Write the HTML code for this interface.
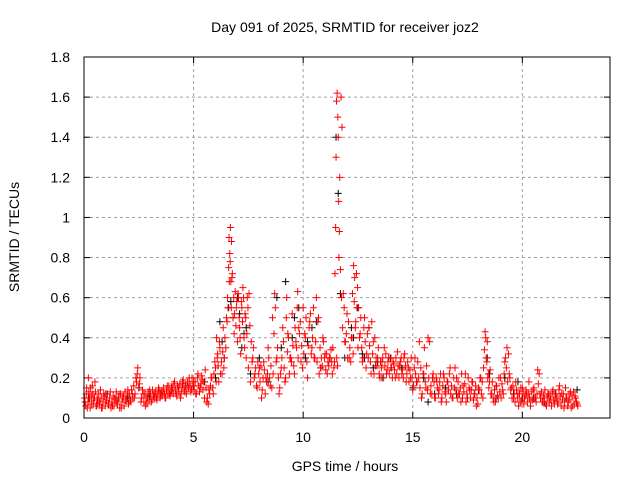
<!DOCTYPE html>
<html><head><meta charset="utf-8"><style>
body{margin:0;background:#fff;}
svg text{font-family:"Liberation Sans",sans-serif;font-size:14px;fill:#000;}
</style></head><body>
<svg id="chart" width="640" height="480" viewBox="0 0 640 480" xmlns="http://www.w3.org/2000/svg">
<text x="345" y="32" text-anchor="middle">Day 091 of 2025, SRMTID for receiver joz2</text>
<text x="345" y="471" text-anchor="middle">GPS time / hours</text>
<text transform="translate(19,237) rotate(-90)" text-anchor="middle">SRMTID / TECUs</text>
<g id="grid"></g>
<g id="ticks"></g>
<g id="black" stroke="#000" stroke-width="1"></g>
<g id="red" stroke="#f00" stroke-width="1"></g>
<rect x="84" y="57" width="526" height="361" fill="none" stroke="#000" stroke-width="1"/>
</svg>
<script>
const xTicks=[0,5,10,15,20];
const yTicks=[0,0.2,0.4,0.6,0.8,1,1.2,1.4,1.6,1.8];
const yTickLabels=["0","0.2","0.4","0.6","0.8","1","1.2","1.4","1.6","1.8"];
const redT=[0.05,0.1,0.15,0.2,0.25,0.3,0.35,0.4,0.45,0.5,0.55,0.6,0.7,0.75,0.8,0.9,1.0,1.1,1.2,1.3,1.4,1.5,1.6,1.7,1.8,1.9,2.0,2.1,2.2,2.3,2.4,2.45,2.5,2.55,2.6,2.7,2.8,2.9,3.0,3.1,3.2,3.3,3.4,3.5,3.6,3.7,3.8,3.9,4.0,4.1,4.2,4.3,4.4,4.5,4.6,4.7,4.8,4.9,5.0,5.1,5.2,5.3,5.4,5.5,5.6,5.7,5.8,5.9,6.0,6.05,6.1,6.15,6.2,6.3,6.35,6.4,6.5,6.55,6.6,6.62,6.65,6.68,6.7,6.72,6.75,6.8,6.85,6.9,6.95,7.0,7.05,7.1,7.15,7.2,7.25,7.3,7.35,7.4,7.45,7.5,7.6,7.7,7.8,7.9,8.0,8.1,8.2,8.3,8.4,8.5,8.6,8.7,8.8,8.9,9.0,9.1,9.2,9.25,9.3,9.4,9.5,9.6,9.7,9.75,9.8,9.9,10.0,10.1,10.2,10.3,10.4,10.5,10.6,10.7,10.8,10.9,11.0,11.1,11.2,11.3,11.35,11.4,11.45,11.48,11.5,11.52,11.55,11.58,11.6,11.62,11.65,11.7,11.75,11.8,11.9,12.0,12.1,12.2,12.25,12.3,12.35,12.4,12.45,12.5,12.6,12.7,12.8,12.9,13.0,13.1,13.2,13.3,13.4,13.5,13.6,13.7,13.8,13.9,14.0,14.1,14.2,14.3,14.4,14.5,14.6,14.7,14.8,14.9,15.0,15.1,15.2,15.3,15.4,15.5,15.6,15.7,15.8,15.9,16.0,16.1,16.2,16.3,16.4,16.5,16.6,16.7,16.8,16.9,17.0,17.1,17.2,17.3,17.4,17.5,17.6,17.7,17.8,17.9,18.0,18.1,18.2,18.3,18.35,18.4,18.45,18.5,18.6,18.7,18.8,18.9,19.0,19.1,19.2,19.3,19.4,19.5,19.6,19.7,19.8,19.9,20.0,20.1,20.2,20.3,20.4,20.5,20.6,20.7,20.8,20.9,21.0,21.1,21.2,21.3,21.4,21.5,21.6,21.7,21.8,21.9,22.0,22.1,22.2,22.3,22.4,22.5,22.6,22.7,22.8];
const redV=[0.08,0.12,0.05,0.2,0.1,0.15,0.07,0.12,0.09,0.18,0.06,0.1,0.08,0.14,0.05,0.12,0.09,0.07,0.13,0.06,0.1,0.08,0.12,0.05,0.11,0.09,0.14,0.08,0.12,0.1,0.18,0.25,0.15,0.2,0.08,0.12,0.06,0.1,0.14,0.09,0.12,0.1,0.15,0.11,0.13,0.1,0.16,0.12,0.14,0.17,0.12,0.15,0.1,0.18,0.13,0.16,0.2,0.14,0.18,0.12,0.22,0.15,0.19,0.1,0.08,0.14,0.2,0.12,0.25,0.4,0.32,0.18,0.35,0.22,0.45,0.3,0.5,0.6,0.75,0.9,0.82,0.95,0.68,0.55,0.7,0.5,0.42,0.63,0.55,0.38,0.6,0.45,0.32,0.55,0.65,0.4,0.52,0.3,0.6,0.25,0.18,0.3,0.22,0.15,0.25,0.1,0.28,0.2,0.35,0.16,0.5,0.62,0.3,0.12,0.25,0.38,0.2,0.6,0.42,0.3,0.52,0.22,0.35,0.63,0.45,0.28,0.55,0.4,0.2,0.48,0.35,0.3,0.6,0.5,0.25,0.4,0.32,0.22,0.3,0.28,0.35,0.25,0.72,0.95,1.3,1.58,1.62,1.5,1.4,1.08,0.93,0.74,0.6,0.45,0.38,0.52,0.3,0.4,0.62,0.76,0.7,0.48,0.55,0.35,0.42,0.28,0.5,0.32,0.45,0.22,0.38,0.26,0.3,0.2,0.28,0.35,0.22,0.3,0.25,0.28,0.2,0.33,0.26,0.22,0.3,0.18,0.25,0.2,0.14,0.3,0.18,0.38,0.1,0.22,0.15,0.4,0.12,0.2,0.1,0.18,0.14,0.08,0.22,0.12,0.18,0.25,0.1,0.15,0.2,0.12,0.08,0.16,0.22,0.1,0.14,0.18,0.12,0.06,0.15,0.2,0.1,0.43,0.3,0.38,0.22,0.18,0.12,0.08,0.16,0.1,0.2,0.14,0.28,0.35,0.22,0.15,0.1,0.18,0.12,0.08,0.15,0.1,0.12,0.18,0.09,0.14,0.1,0.24,0.12,0.08,0.1,0.06,0.12,0.09,0.14,0.1,0.07,0.16,0.12,0.05,0.1,0.08,0.13,0.06,0.11,0.07];
const redT2=[0.02,0.08,0.12,0.18,0.22,0.28,0.33,0.38,0.42,0.48,0.52,0.58,0.63,0.67,0.72,0.78,0.83,0.87,0.93,0.97,1.03,1.07,1.13,1.17,1.23,1.27,1.33,1.37,1.43,1.47,1.53,1.57,1.63,1.67,1.73,1.77,1.83,1.87,1.93,1.97,2.03,2.07,2.13,2.17,2.23,2.27,2.33,2.37,2.43,2.53,2.63,2.67,2.73,2.77,2.83,2.87,2.93,2.97,3.03,3.07,3.13,3.17,3.23,3.27,3.33,3.37,3.43,3.47,3.53,3.57,3.63,3.67,3.73,3.77,3.83,3.87,3.93,3.97,4.03,4.07,4.13,4.17,4.23,4.27,4.33,4.37,4.43,4.47,4.53,4.57,4.63,4.67,4.73,4.77,4.83,4.87,4.93,4.97,5.03,5.07,5.13,5.17,5.23,5.27,5.33,5.37,5.43,5.47,5.53,5.57,5.63,5.67,5.73,5.77,5.83,5.87,5.93,5.97,6.03,6.08,6.12,6.18,6.23,6.27,6.33,6.38,6.43,6.47,6.53,6.57,6.63,6.67,6.73,6.77,6.83,6.87,6.93,6.97,7.03,7.08,7.12,7.18,7.23,7.28,7.33,7.38,7.43,7.48,7.53,7.57,7.63,7.67,7.73,7.77,7.83,7.87,7.93,7.97,8.03,8.07,8.13,8.17,8.23,8.27,8.33,8.37,8.43,8.47,8.53,8.57,8.63,8.67,8.73,8.77,8.83,8.87,8.93,8.97,9.03,9.07,9.13,9.17,9.23,9.28,9.33,9.37,9.43,9.47,9.53,9.57,9.63,9.67,9.73,9.77,9.83,9.87,9.93,9.97,10.03,10.07,10.13,10.17,10.23,10.27,10.33,10.37,10.43,10.47,10.53,10.57,10.63,10.67,10.73,10.77,10.83,10.87,10.93,10.97,11.03,11.07,11.13,11.17,11.23,11.27,11.33,11.43,11.53,11.57,11.63,11.67,11.73,11.77,11.83,11.87,11.93,11.97,12.03,12.07,12.13,12.17,12.23,12.28,12.33,12.38,12.43,12.48,12.53,12.57,12.63,12.67,12.73,12.77,12.83,12.87,12.93,12.97,13.03,13.07,13.13,13.17,13.23,13.27,13.33,13.37,13.43,13.47,13.53,13.57,13.63,13.67,13.73,13.77,13.83,13.87,13.93,13.97,14.03,14.07,14.13,14.17,14.23,14.27,14.33,14.37,14.43,14.47,14.53,14.57,14.63,14.67,14.73,14.77,14.83,14.87,14.93,14.97,15.03,15.07,15.13,15.17,15.23,15.27,15.33,15.37,15.43,15.47,15.53,15.57,15.63,15.67,15.73,15.77,15.83,15.87,15.93,15.97,16.03,16.07,16.13,16.17,16.23,16.27,16.33,16.37,16.43,16.47,16.53,16.57,16.63,16.67,16.73,16.77,16.83,16.87,16.93,16.97,17.03,17.07,17.13,17.17,17.23,17.27,17.33,17.37,17.43,17.47,17.53,17.57,17.63,17.67,17.73,17.77,17.83,17.87,17.93,17.97,18.03,18.07,18.13,18.17,18.23,18.27,18.33,18.38,18.42,18.47,18.53,18.57,18.63,18.67,18.73,18.77,18.83,18.87,18.93,18.97,19.03,19.07,19.13,19.17,19.23,19.27,19.33,19.37,19.43,19.47,19.53,19.57,19.63,19.67,19.73,19.77,19.83,19.87,19.93,19.97,20.03,20.07,20.13,20.17,20.23,20.27,20.33,20.37,20.43,20.47,20.53,20.57,20.63,20.67,20.73,20.77,20.83,20.87,20.93,20.97,21.03,21.07,21.13,21.17,21.23,21.27,21.33,21.37,21.43,21.47,21.53,21.57,21.63,21.67,21.73,21.77,21.83,21.87,21.93,21.97,22.03,22.07,22.13,22.17,22.23,22.27,22.33,22.37,22.43,22.47,22.53,22.57,22.63,22.67,22.73,22.77];
const redV2=[0.1,0.06,0.15,0.08,0.13,0.05,0.11,0.16,0.07,0.1,0.13,0.06,0.09,0.12,0.07,0.1,0.05,0.08,0.11,0.06,0.09,0.12,0.07,0.1,0.05,0.08,0.11,0.06,0.09,0.13,0.07,0.1,0.05,0.12,0.08,0.1,0.06,0.13,0.09,0.11,0.07,0.12,0.09,0.14,0.1,0.16,0.12,0.2,0.22,0.17,0.1,0.14,0.08,0.12,0.1,0.07,0.13,0.09,0.12,0.08,0.14,0.11,0.1,0.13,0.09,0.12,0.14,0.1,0.13,0.11,0.15,0.12,0.1,0.14,0.12,0.16,0.11,0.13,0.15,0.12,0.18,0.14,0.11,0.16,0.13,0.17,0.12,0.15,0.19,0.14,0.16,0.12,0.18,0.15,0.17,0.13,0.2,0.16,0.14,0.18,0.12,0.2,0.16,0.13,0.17,0.21,0.14,0.18,0.24,0.15,0.1,0.07,0.12,0.16,0.2,0.15,0.22,0.28,0.18,0.3,0.26,0.38,0.22,0.28,0.33,0.25,0.4,0.35,0.48,0.55,0.68,0.78,0.88,0.72,0.6,0.52,0.46,0.58,0.62,0.5,0.4,0.58,0.48,0.6,0.35,0.5,0.42,0.55,0.62,0.46,0.38,0.28,0.35,0.2,0.25,0.16,0.28,0.22,0.18,0.26,0.14,0.2,0.24,0.12,0.18,0.22,0.3,0.2,0.26,0.15,0.22,0.42,0.55,0.28,0.35,0.2,0.15,0.22,0.3,0.45,0.25,0.18,0.5,0.33,0.4,0.22,0.3,0.28,0.36,0.26,0.45,0.38,0.55,0.3,0.42,0.48,0.36,0.25,0.32,0.42,0.5,0.28,0.36,0.45,0.52,0.32,0.4,0.55,0.3,0.38,0.28,0.48,0.22,0.35,0.3,0.26,0.38,0.3,0.24,0.32,0.28,0.26,0.3,0.34,0.22,0.28,0.3,0.26,0.8,1.2,1.6,1.45,0.62,0.55,0.38,0.42,0.3,0.48,0.35,0.28,0.4,0.32,0.58,0.45,0.72,0.65,0.55,0.4,0.5,0.35,0.3,0.45,0.38,0.25,0.42,0.3,0.36,0.28,0.48,0.32,0.22,0.4,0.3,0.26,0.35,0.22,0.28,0.25,0.3,0.2,0.26,0.32,0.24,0.28,0.22,0.3,0.25,0.2,0.27,0.24,0.3,0.22,0.26,0.2,0.28,0.3,0.24,0.2,0.32,0.26,0.22,0.28,0.18,0.24,0.3,0.2,0.16,0.25,0.22,0.18,0.28,0.2,0.15,0.25,0.12,0.22,0.35,0.18,0.26,0.14,0.2,0.38,0.16,0.12,0.22,0.18,0.1,0.2,0.15,0.12,0.18,0.22,0.1,0.16,0.2,0.13,0.08,0.18,0.14,0.22,0.12,0.16,0.1,0.2,0.25,0.14,0.1,0.18,0.12,0.15,0.22,0.1,0.13,0.17,0.08,0.12,0.2,0.15,0.1,0.14,0.18,0.09,0.12,0.16,0.1,0.07,0.14,0.2,0.12,0.18,0.25,0.34,0.4,0.28,0.2,0.15,0.24,0.12,0.18,0.1,0.14,0.08,0.16,0.11,0.2,0.13,0.1,0.17,0.12,0.22,0.3,0.25,0.18,0.32,0.2,0.14,0.1,0.16,0.12,0.08,0.14,0.1,0.06,0.12,0.15,0.09,0.13,0.07,0.11,0.14,0.08,0.12,0.1,0.06,0.13,0.09,0.15,0.1,0.08,0.12,0.17,0.22,0.1,0.13,0.08,0.11,0.14,0.07,0.1,0.12,0.08,0.11,0.06,0.13,0.09,0.07,0.12,0.1,0.08,0.14,0.11,0.06,0.09,0.12,0.08,0.15,0.1,0.06,0.12,0.09,0.05,0.11,0.13,0.07,0.1,0.08,0.06];
const blackT=[0.2,0.6,1.0,1.5,2.0,2.5,3.0,3.5,4.0,4.5,5.0,5.5,6.0,6.2,6.4,6.6,6.8,7.0,7.2,7.4,7.6,8.0,8.4,8.8,9.2,9.5,9.8,10.1,10.4,10.8,11.2,11.5,11.6,11.7,11.9,12.2,12.5,12.8,13.2,13.6,14.0,14.5,15.0,15.5,16.0,16.5,17.0,17.5,18.0,18.4,18.8,19.2,19.6,20.0,20.5,21.0,21.5,22.0,22.5,6.3,6.7,7.1,7.3,9.0,9.6,10.2,10.6,12.3,12.7,13.0,13.4,15.7,18.5,19.8];
const blackV=[0.1,0.07,0.12,0.09,0.1,0.15,0.11,0.12,0.15,0.17,0.16,0.18,0.2,0.48,0.3,0.55,0.5,0.6,0.35,0.45,0.22,0.3,0.18,0.6,0.68,0.4,0.55,0.3,0.45,0.25,0.3,1.4,1.12,0.62,0.3,0.45,0.55,0.3,0.25,0.2,0.3,0.25,0.15,0.2,0.12,0.15,0.12,0.1,0.14,0.3,0.1,0.2,0.12,0.1,0.1,0.08,0.12,0.1,0.14,0.38,0.58,0.52,0.42,0.35,0.5,0.38,0.48,0.4,0.32,0.45,0.28,0.08,0.22,0.18];
const X0=84,X1=610,Y0=418,Y1=57,XMAX=24,YMAX=1.8;
const xs=t=>X0+t/XMAX*(X1-X0);
const ys=v=>Y0-v/YMAX*(Y0-Y1);
const NS="http://www.w3.org/2000/svg";
const grid=document.getElementById('grid'),ticks=document.getElementById('ticks');
function mk(tag,attrs,parent){const e=document.createElementNS(NS,tag);for(const k in attrs)e.setAttribute(k,attrs[k]);parent.appendChild(e);return e;}
xTicks.forEach(t=>{const x=xs(t);
 if(t>0){const g=mk('line',{x1:x,x2:x,y1:Y1,y2:Y0,stroke:'#a0a0a0','stroke-dasharray':'3,3'},grid);
 
 }
 mk('line',{x1:x,x2:x,y1:Y0,y2:Y0-6,stroke:'#000'},ticks);mk('line',{x1:x,x2:x,y1:Y1,y2:Y1+6,stroke:'#000'},ticks);
 const l=mk('text',{x:x,y:Y0+24,'text-anchor':'middle'},ticks);l.textContent=t;
 
 });
yTicks.forEach((v,i)=>{const y=ys(v);
 if(v>0&&v<YMAX){const g=mk('line',{x1:X0,x2:X1,y1:y,y2:y,stroke:'#a0a0a0','stroke-dasharray':'3,3'},grid);
 
 }
 mk('line',{x1:X0,x2:X0+6,y1:y,y2:y,stroke:'#000'},ticks);mk('line',{x1:X1,x2:X1-6,y1:y,y2:y,stroke:'#000'},ticks);
 const l=mk('text',{x:X0-14,y:y+5,'text-anchor':'end'},ticks);l.textContent=yTickLabels[i];
 
 });
function plus(g,t,v,name){const x=xs(t),y=ys(v);const p=mk('path',{d:`M${x-3.5},${y}h7M${x},${y-3.5}v7`},g);
 
 }
const bg=document.getElementById('black'),rg=document.getElementById('red');
blackT.forEach((t,i)=>plus(bg,t,blackV[i],'black-point'));
redT.forEach((t,i)=>plus(rg,t,redV[i],'red-point'));
redT2.forEach((t,i)=>plus(rg,t,redV2[i],'red-point'));
</script>
</body></html>
